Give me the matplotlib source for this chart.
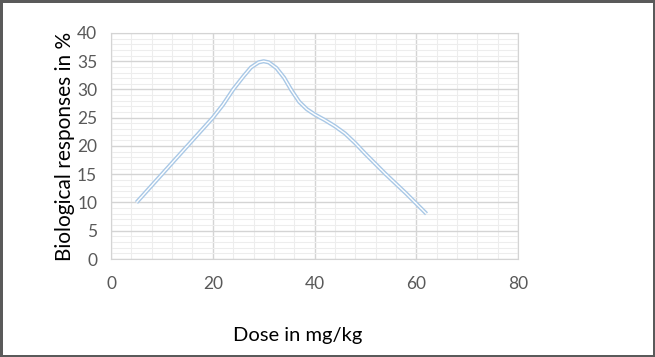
import matplotlib
matplotlib.use("Agg")
import matplotlib.pyplot as plt
from matplotlib.ticker import MultipleLocator

# values
dose = [5, 10, 15, 20, 22, 24, 26, 27.5, 29, 30, 31, 32.5, 34, 35.5, 37, 38.5, 40, 42, 44, 46, 48, 50, 54, 58, 62]
response = [10, 15, 20, 25, 27.3, 30, 32.3, 33.9, 34.8, 35, 34.8, 33.8, 32.1, 29.8, 27.8, 26.5, 25.6, 24.6, 23.5, 22.2, 20.5, 18.6, 15, 11.6, 8]

x_ticks = [0, 20, 40, 60, 80]
y_ticks = [0, 5, 10, 15, 20, 25, 30, 35, 40]

plt.rcParams["font.family"] = ["Lato", "DejaVu Sans"]

fig = plt.figure(figsize=(6.55, 3.57), dpi=100)
fig.patch.set_edgecolor("#5a5a5a")
fig.patch.set_linewidth(2.5)
ax = fig.add_axes([0.1695, 0.2745, 0.6215, 0.6331])

# double line look: light blue stroke with a white core
ax.plot(dose, response, color="#a9c8e6", lw=3.0, solid_joinstyle="round", solid_capstyle="butt", zorder=3)
ax.plot(dose, response, color="white", lw=1.0, solid_joinstyle="round", solid_capstyle="butt", zorder=4)

ax.set_xlim(0, 80)
ax.set_ylim(0, 40)
ax.set_xticks(x_ticks)
ax.set_yticks(y_ticks)
ax.xaxis.set_minor_locator(MultipleLocator(4))
ax.yaxis.set_minor_locator(MultipleLocator(1))
ax.grid(which="major", color="#d4d4d4", lw=1.0)
ax.grid(which="minor", color="#ededed", lw=0.8)
ax.set_axisbelow(True)
for s in ax.spines.values():
    s.set_color("#d4d4d4")
ax.tick_params(which="both", length=0)
ax.tick_params(axis="x", pad=12, labelsize=12.5, labelcolor="#595959")
ax.tick_params(axis="y", pad=10, labelsize=12.5, labelcolor="#595959")

ax.set_ylabel("Biological responses in %", fontsize=15, labelpad=1)
fig.text(298 / 655, 1 - 335 / 357, "Dose in mg/kg", fontsize=14.5,
         ha="center", va="center")

fig.savefig("out.png", dpi=100)
